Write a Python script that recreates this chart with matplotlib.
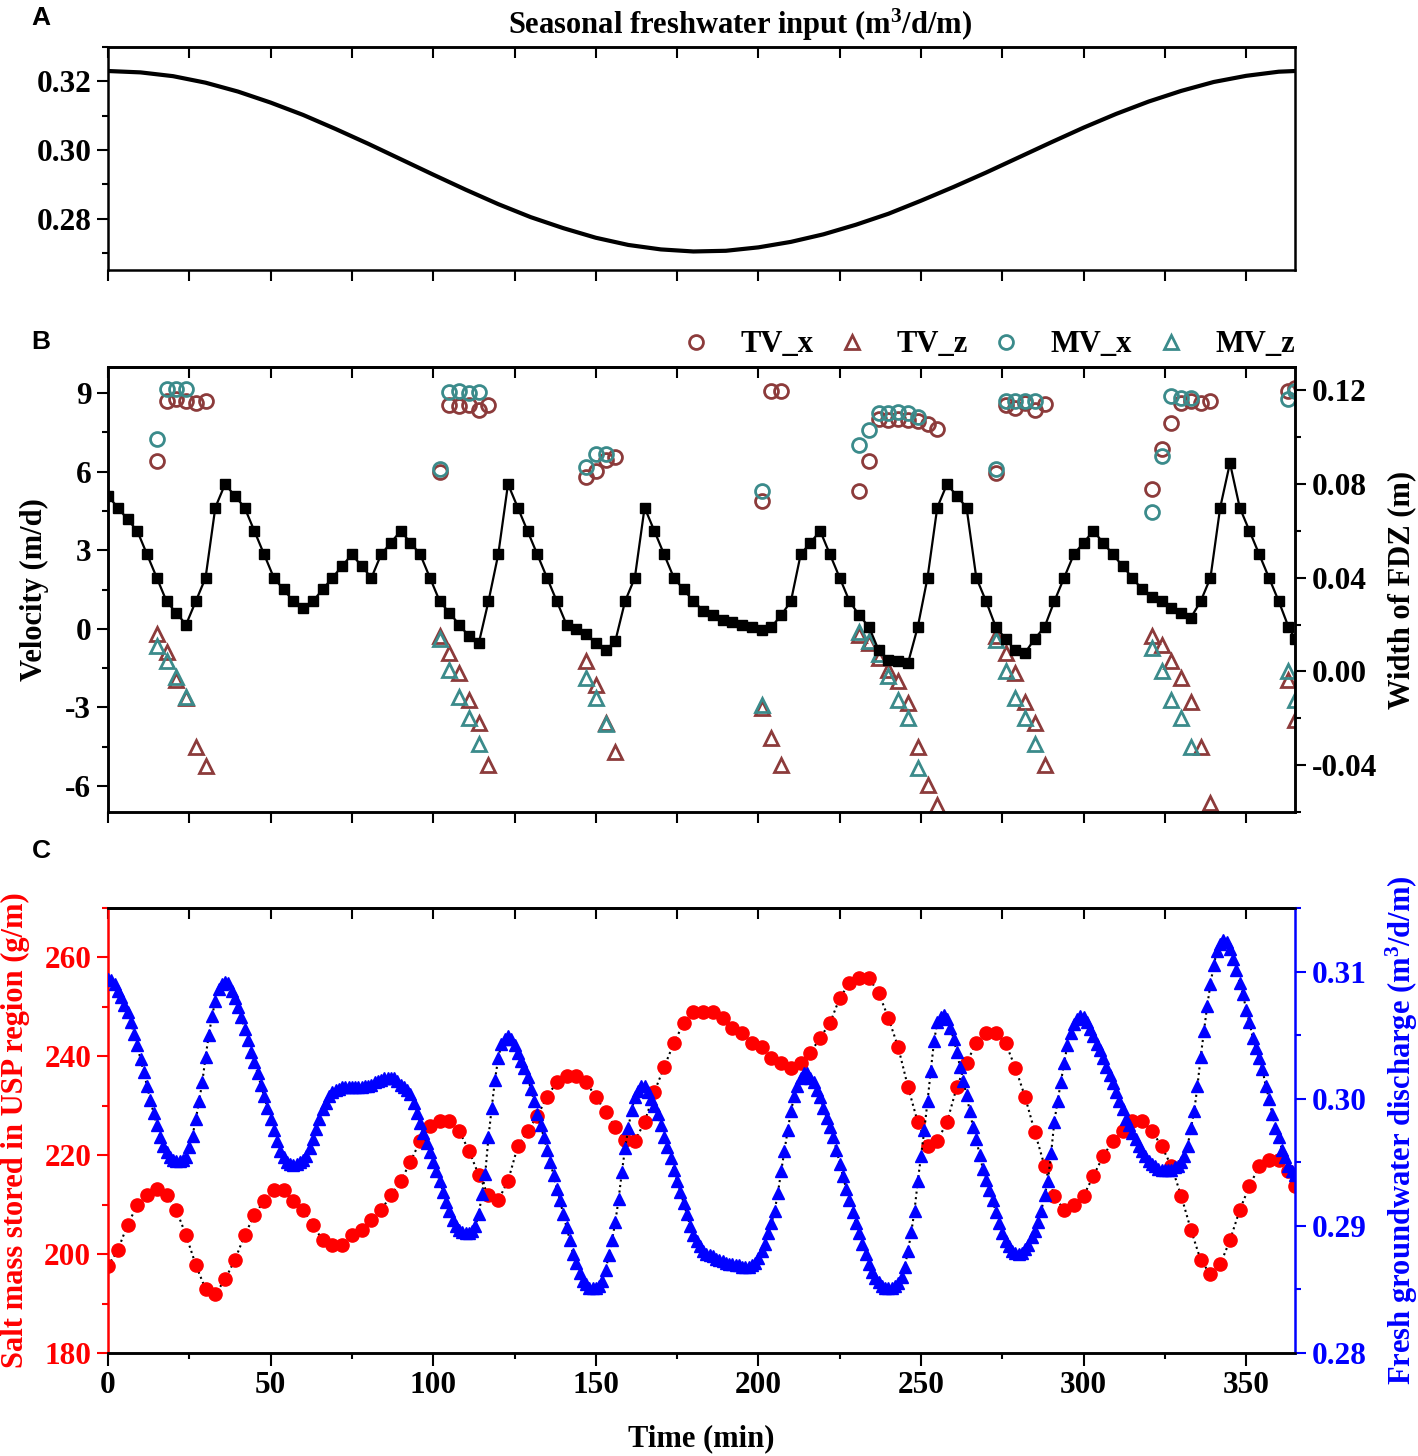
import numpy as np
import matplotlib.pyplot as plt
from matplotlib.ticker import MultipleLocator, FormatStrFormatter

plt.rcParams['font.family'] = ['Liberation Serif', 'DejaVu Serif']
plt.rcParams['font.weight'] = 'bold'
plt.rcParams['axes.unicode_minus'] = False
plt.rcParams['mathtext.fontset'] = 'custom'
plt.rcParams['mathtext.rm'] = 'Liberation Serif:bold'
plt.rcParams['mathtext.default'] = 'rm'

# ==== A: seasonal freshwater input (m3/d/m) ====
seasonal_t = [0, 10, 20, 30, 40, 50, 60, 70, 80, 90, 100, 110, 120, 130, 140, 150, 160, 170, 180,
              190, 200, 210, 220, 230, 240, 250, 260, 270, 280, 290, 300, 310, 320, 330, 340, 350, 360, 365]
seasonal_q = [0.3230, 0.3226, 0.3215, 0.3196, 0.3170, 0.3138, 0.3102, 0.3061, 0.3018, 0.2973,
              0.2928, 0.2884, 0.2842, 0.2804, 0.2772, 0.2744, 0.2723, 0.2710, 0.2704,
              0.2706, 0.2716, 0.2732, 0.2754, 0.2782, 0.2814, 0.2852, 0.2892, 0.2934, 0.2978,
              0.3022, 0.3065, 0.3105, 0.3141, 0.3172, 0.3198, 0.3216, 0.3228, 0.3230]

# ==== B: velocities (m/d) and FDZ width (m) ====
tvx_t = [15, 18, 21, 24, 27, 30, 102, 105, 108, 111, 114, 117, 147, 150, 153, 156, 201, 204, 207,
         231, 234, 237, 240, 243, 246, 249, 252, 255, 273, 276, 279, 282, 285, 288,
         321, 324, 327, 330, 333, 336, 339, 363, 365]
tvx_v = [6.39, 8.69, 8.78, 8.69, 8.62, 8.71, 5.97, 8.56, 8.50, 8.56, 8.37, 8.56, 5.80, 6.01, 6.46, 6.55,
         4.87, 9.07, 9.07, 5.27, 6.39, 8.01, 7.99, 8.01, 7.99, 7.92, 7.82, 7.63,
         5.95, 8.56, 8.43, 8.62, 8.37, 8.58, 5.34, 6.87, 7.86, 8.62, 8.69, 8.62, 8.72, 9.07, 9.20]

tvz_t = tvx_t
tvz_v = [-0.19, -0.87, -1.95, -2.65, -4.50, -5.24, -0.29, -0.93, -1.69, -2.74, -3.60, -5.20,
         -1.25, -2.14, -3.60, -4.69, -3.03, -4.18, -5.20,
         -0.25, -0.55, -1.10, -1.57, -2.01, -2.84, -4.50, -5.96, -6.73,
         -0.29, -0.93, -1.69, -2.78, -3.60, -5.20, -0.29, -0.61, -1.25, -1.88, -2.78, -4.50, -6.66,
         -1.95, -3.48]

mvx_t = [15, 18, 21, 24, 102, 105, 108, 111, 114, 147, 150, 153, 201,
         231, 234, 237, 240, 243, 246, 249, 273, 276, 279, 282, 285, 321, 324, 327, 330, 333, 363, 365]
mvx_v = [7.25, 9.16, 9.16, 9.16, 6.10, 9.03, 9.07, 9.01, 9.03, 6.18, 6.67, 6.67, 5.27,
         7.03, 7.60, 8.24, 8.24, 8.27, 8.24, 8.09, 6.10, 8.69, 8.72, 8.69, 8.72,
         4.45, 6.61, 8.88, 8.81, 8.81, 8.78, 9.07]

mvz_t = mvx_t
mvz_v = [-0.65, -1.25, -1.85, -2.59, -0.39, -1.57, -2.61, -3.41, -4.39, -1.88, -2.65, -3.63, -2.90,
         -0.12, -0.48, -0.95, -1.82, -2.71, -3.41, -5.32, -0.42, -1.63, -2.65, -3.41, -4.39,
         -0.74, -1.63, -2.71, -3.41, -4.50, -1.63, -2.71]

# FDZ width, every 3 days (0..363) plus day 365
fdz_t = list(range(0, 364, 3)) + [365]
fdz_w = [0.075, 0.070, 0.065, 0.060, 0.050, 0.040, 0.030, 0.025, 0.020, 0.030,
         0.040, 0.070, 0.080, 0.075, 0.070, 0.060, 0.050, 0.040, 0.035, 0.030,
         0.027, 0.030, 0.035, 0.040, 0.045, 0.050, 0.045, 0.040, 0.050, 0.055,
         0.060, 0.055, 0.050, 0.040, 0.030, 0.025, 0.020, 0.015, 0.012, 0.030,
         0.050, 0.080, 0.070, 0.060, 0.050, 0.040, 0.030, 0.020, 0.018, 0.016,
         0.012, 0.009, 0.013, 0.030, 0.040, 0.070, 0.060, 0.050, 0.040, 0.035,
         0.030, 0.026, 0.024, 0.022, 0.021, 0.020, 0.019, 0.0175, 0.019, 0.024,
         0.030, 0.050, 0.055, 0.060, 0.050, 0.040, 0.030, 0.024, 0.019, 0.009,
         0.005, 0.0043, 0.0036, 0.019, 0.040, 0.070, 0.080, 0.075, 0.070, 0.040,
         0.030, 0.019, 0.014, 0.009, 0.008, 0.014, 0.019, 0.030, 0.040, 0.050,
         0.055, 0.060, 0.055, 0.050, 0.045, 0.040, 0.035, 0.032, 0.030, 0.027,
         0.025, 0.023, 0.030, 0.040, 0.070, 0.089, 0.070, 0.060, 0.050, 0.040,
         0.030, 0.019, 0.014]

# ==== C: salt mass (g/m), every 3 days plus day 365 ====
salt_t = fdz_t
salt_m = [197.6, 200.8, 205.9, 209.9, 211.9, 213.1, 211.9, 208.9, 203.8, 197.8,
          192.9, 191.9, 194.9, 198.8, 203.8, 207.9, 210.8, 212.9, 212.9, 210.8,
          208.9, 205.9, 202.8, 201.8, 201.8, 203.8, 204.9, 206.9, 208.9, 211.9,
          214.7, 218.7, 222.9, 225.9, 227.0, 227.0, 224.9, 220.9, 216.0, 211.9,
          210.9, 214.8, 221.8, 224.9, 227.9, 231.8, 234.8, 236.0, 236.0, 234.8,
          231.8, 228.8, 225.7, 223.0, 222.9, 226.7, 232.8, 237.8, 242.7, 246.7,
          249.0, 249.0, 249.0, 247.8, 245.8, 244.7, 242.7, 241.8, 239.7, 238.7,
          237.7, 238.7, 240.7, 243.8, 246.7, 251.8, 254.8, 255.8, 255.8, 252.8,
          247.7, 241.8, 233.8, 226.7, 221.8, 222.9, 226.7, 233.8, 238.7, 242.7,
          244.7, 244.7, 242.7, 237.7, 231.8, 224.7, 217.8, 211.8, 208.9, 209.9,
          211.8, 215.8, 219.8, 222.9, 224.9, 226.9, 226.9, 224.9, 221.8, 217.8,
          211.8, 204.9, 198.8, 195.9, 197.9, 202.8, 208.9, 213.8, 217.8, 219.0,
          219.0, 216.8, 213.7]

# fresh groundwater discharge (m3/d/m), daily, day 0..365
discharge = [
    0.3094, 0.3093, 0.3090, 0.3085, 0.3080, 0.3074, 0.3068, 0.3060, 0.3051, 0.3042,
    0.3031, 0.3021, 0.3010, 0.2999, 0.2989, 0.2979, 0.2970, 0.2963, 0.2958, 0.2954,
    0.2952, 0.2951, 0.2951, 0.2952, 0.2954, 0.2962, 0.2971, 0.2984, 0.2998, 0.3013,
    0.3033, 0.3050, 0.3065, 0.3077, 0.3086, 0.3090, 0.3092, 0.3091, 0.3085, 0.3079,
    0.3072, 0.3064, 0.3055, 0.3046, 0.3037, 0.3029, 0.3020, 0.3011, 0.3002, 0.2993,
    0.2984, 0.2975, 0.2967, 0.2959, 0.2954, 0.2950, 0.2949, 0.2948, 0.2949, 0.2950,
    0.2952, 0.2955, 0.2961, 0.2968, 0.2976, 0.2984, 0.2992, 0.2997, 0.3002, 0.3005,
    0.3007, 0.3008, 0.3009, 0.3009, 0.3009, 0.3009, 0.3009, 0.3009, 0.3009, 0.3010,
    0.3010, 0.3011, 0.3013, 0.3014, 0.3015, 0.3016, 0.3016, 0.3016, 0.3016, 0.3014,
    0.3011, 0.3009, 0.3007, 0.3004, 0.2997, 0.2989, 0.2981, 0.2973, 0.2965, 0.2958,
    0.2950, 0.2943, 0.2935, 0.2927, 0.2919, 0.2912, 0.2905, 0.2900, 0.2897, 0.2895,
    0.2894, 0.2894, 0.2896, 0.2900, 0.2909, 0.2925, 0.2941, 0.2970, 0.2993, 0.3015,
    0.3032, 0.3043, 0.3047, 0.3049, 0.3047, 0.3042, 0.3036, 0.3030, 0.3024, 0.3017,
    0.3008, 0.2998, 0.2988, 0.2979, 0.2970, 0.2960, 0.2950, 0.2940, 0.2929, 0.2920,
    0.2909, 0.2899, 0.2889, 0.2878, 0.2871, 0.2863, 0.2857, 0.2854, 0.2851, 0.2851,
    0.2851, 0.2853, 0.2857, 0.2865, 0.2877, 0.2889, 0.2903, 0.2921, 0.2942, 0.2961,
    0.2977, 0.2991, 0.3001, 0.3006, 0.3010, 0.3010, 0.3005, 0.3000, 0.2994, 0.2988,
    0.2979, 0.2970, 0.2962, 0.2953, 0.2944, 0.2935, 0.2927, 0.2918, 0.2909, 0.2900,
    0.2893, 0.2888, 0.2884, 0.2880, 0.2878, 0.2877, 0.2876, 0.2874, 0.2873, 0.2872,
    0.2871, 0.2870, 0.2870, 0.2869, 0.2869, 0.2868, 0.2868, 0.2868, 0.2869, 0.2871,
    0.2875, 0.2880, 0.2886, 0.2894, 0.2902, 0.2912, 0.2926, 0.2943, 0.2959, 0.2975,
    0.2990, 0.3002, 0.3010, 0.3016, 0.3020, 0.3020, 0.3016, 0.3013, 0.3007, 0.3001,
    0.2993, 0.2985, 0.2978, 0.2970, 0.2960, 0.2949, 0.2939, 0.2929, 0.2920, 0.2911,
    0.2902, 0.2894, 0.2886, 0.2878, 0.2870, 0.2864, 0.2859, 0.2856, 0.2853, 0.2851,
    0.2851, 0.2851, 0.2853, 0.2855, 0.2860, 0.2868, 0.2880, 0.2895, 0.2912, 0.2935,
    0.2955, 0.2975, 0.2998, 0.3022, 0.3045, 0.3060, 0.3064, 0.3066, 0.3063, 0.3056,
    0.3047, 0.3037, 0.3025, 0.3014, 0.3003, 0.2990, 0.2978, 0.2968, 0.2956, 0.2945,
    0.2936, 0.2928, 0.2920, 0.2911, 0.2902, 0.2894, 0.2888, 0.2884, 0.2880, 0.2879,
    0.2878, 0.2879, 0.2882, 0.2885, 0.2891, 0.2896, 0.2903, 0.2912, 0.2924, 0.2935,
    0.2957, 0.2982, 0.2998, 0.3013, 0.3028, 0.3042, 0.3052, 0.3059, 0.3063, 0.3065,
    0.3064, 0.3060, 0.3055, 0.3049, 0.3043, 0.3038, 0.3032, 0.3025, 0.3019, 0.3012,
    0.3005, 0.2998, 0.2992, 0.2984, 0.2979, 0.2973, 0.2968, 0.2963, 0.2959, 0.2955,
    0.2951, 0.2949, 0.2947, 0.2945, 0.2944, 0.2944, 0.2944, 0.2944, 0.2946, 0.2947,
    0.2950, 0.2955, 0.2963, 0.2977, 0.2990, 0.3010, 0.3033, 0.3053, 0.3073, 0.3090,
    0.3105, 0.3116, 0.3122, 0.3125, 0.3123, 0.3118, 0.3110, 0.3101, 0.3091, 0.3082,
    0.3070, 0.3060, 0.3048, 0.3040, 0.3032, 0.3023, 0.3010, 0.3000, 0.2988, 0.2977,
    0.2970, 0.2960, 0.2954, 0.2947, 0.2943, 0.2940]
discharge_t = np.arange(len(discharge))

FS = 22          # axis titles, legend
FS_TICK = 22.5   # tick labels
BROWN = '#8c3b3b'
TEAL = '#3b8b8b'
W, H = 1418, 1456


def box(l, t, r, b):
    return [l / W, 1 - b / H, (r - l) / W, (b - t) / H]


def style(ax):
    ax.set_xlim(0, 365)
    for s in ax.spines.values():
        s.set_linewidth(1.8)
    ax.tick_params(which='both', direction='out', width=1.5, labelsize=FS_TICK, pad=4)
    ax.tick_params(which='major', length=8)
    ax.tick_params(which='minor', length=4.5)
    top = ax.secondary_xaxis('top')
    top.xaxis.set_major_locator(MultipleLocator(25))
    top.tick_params(direction='in', length=8, width=1.5, labeltop=False)
    top.spines['top'].set_linewidth(1.8)


fig = plt.figure(figsize=(14.18, 14.56), dpi=100)

# ---- A ----
axA = fig.add_axes(box(108, 47, 1295, 270))
axA.plot(seasonal_t, seasonal_q, color='black', lw=3)
style(axA)
axA.set_ylim(0.265, 0.330)
axA.yaxis.set_major_locator(MultipleLocator(0.02))
axA.yaxis.set_minor_locator(MultipleLocator(0.01))
axA.yaxis.set_major_formatter(FormatStrFormatter('%.2f'))
axA.xaxis.set_major_locator(MultipleLocator(25))
axA.tick_params(axis='x', labelbottom=False)
fig.text(740 / W, 1 - 25 / H, 'Seasonal freshwater input (m$^3$/d/m)', ha='center', va='center',
         fontsize=FS, fontweight='bold')

# ---- B ----
axB = fig.add_axes(box(108, 367, 1295, 812))
mk = dict(ls='none', ms=10, mew=2, mfc='none')
axB.plot(tvx_t, tvx_v, marker='o', mec=BROWN, label='TV_x', **mk)
axB.plot(tvz_t, tvz_v, marker='^', mec=BROWN, label='TV_z', **mk)
axB.plot(mvx_t, mvx_v, marker='o', mec=TEAL, label='MV_x', **mk)
axB.plot(mvz_t, mvz_v, marker='^', mec=TEAL, label='MV_z', **mk)
style(axB)
axB.set_ylim(-7, 10)
axB.yaxis.set_major_locator(MultipleLocator(3))
axB.yaxis.set_minor_locator(MultipleLocator(1.5))
axB.xaxis.set_major_locator(MultipleLocator(25))
axB.tick_params(axis='x', labelbottom=False)
axB.set_ylabel('Velocity (m/d)', fontsize=FS, fontweight='bold')
axB.yaxis.set_label_coords(-0.05, 0.5)
axB.legend(loc='center right', bbox_to_anchor=(1.0, 1 + 22 / 445), ncol=4, frameon=False,
           borderaxespad=0, borderpad=0, handlelength=1.0, handletextpad=0.95,
           columnspacing=0.77, prop={'weight': 'bold', 'size': FS})

axB2 = axB.twinx()
axB2.plot(fdz_t, fdz_w, color='black', lw=1.6, marker='s', ms=7.5)
axB2.set_ylim(-0.06, 0.13)
axB2.yaxis.set_major_locator(MultipleLocator(0.04))
axB2.yaxis.set_minor_locator(MultipleLocator(0.02))
axB2.yaxis.set_major_formatter(FormatStrFormatter('%.2f'))
axB2.tick_params(which='both', direction='out', width=1.5, labelsize=FS_TICK, pad=4)
axB2.tick_params(which='major', length=8)
axB2.tick_params(which='minor', length=4.5)
for s in axB2.spines.values():
    s.set_linewidth(1.8)
axB2.set_ylabel('Width of FDZ (m)', fontsize=FS, fontweight='bold')
axB2.yaxis.set_label_coords(1.078, 0.5)

# ---- C ----
axC = fig.add_axes(box(108, 908, 1295, 1353))
axC.plot(salt_t, salt_m, ls=':', color='black', lw=1.5, marker='o', ms=9.5,
         mfc='red', mec='red')
style(axC)
axC.set_ylim(180, 270)
axC.yaxis.set_major_locator(MultipleLocator(20))
axC.yaxis.set_minor_locator(MultipleLocator(10))
axC.xaxis.set_major_locator(MultipleLocator(50))
axC.xaxis.set_minor_locator(MultipleLocator(25))
axC.tick_params(axis='x', which='major', length=9)
axC.tick_params(axis='y', which='both', colors='red')
axC.spines['left'].set_color('red')
axC.spines['right'].set_visible(False)
axC.set_ylabel('Salt mass stored in USP region (g/m)', fontsize=FS, fontweight='bold', color='red')
axC.yaxis.set_label_coords(-0.066, 0.5)
axC.set_xlabel('Time (min)', fontsize=FS, fontweight='bold')
axC.xaxis.set_label_coords(0.5, -0.16)

axC2 = axC.twinx()
axC2.plot(discharge_t, discharge, ls=':', color='black', lw=1.5, marker='^', ms=8.5,
          mfc='blue', mec='blue')
axC2.set_ylim(0.28, 0.315)
axC2.yaxis.set_major_locator(MultipleLocator(0.01))
axC2.yaxis.set_minor_locator(MultipleLocator(0.005))
axC2.yaxis.set_major_formatter(FormatStrFormatter('%.2f'))
axC2.tick_params(which='both', direction='out', width=1.5, labelsize=FS_TICK, pad=4, colors='blue')
axC2.tick_params(which='major', length=8)
axC2.tick_params(which='minor', length=4.5)
for s in axC2.spines.values():
    s.set_linewidth(1.8)
axC2.spines['left'].set_visible(False)
axC2.spines['right'].set_color('blue')
axC2.set_ylabel('Fresh groundwater discharge (m$^3$/d/m)', fontsize=FS, fontweight='bold',
                color='blue')
axC2.yaxis.set_label_coords(1.0745, 0.5)

# panel letters
for letter, y in [('A', 18), ('B', 342), ('C', 851)]:
    fig.text(41 / W, 1 - y / H, letter, ha='center', va='center', fontsize=19,
             fontweight='bold', family='Liberation Sans')

fig.savefig('out.png', dpi=100)
